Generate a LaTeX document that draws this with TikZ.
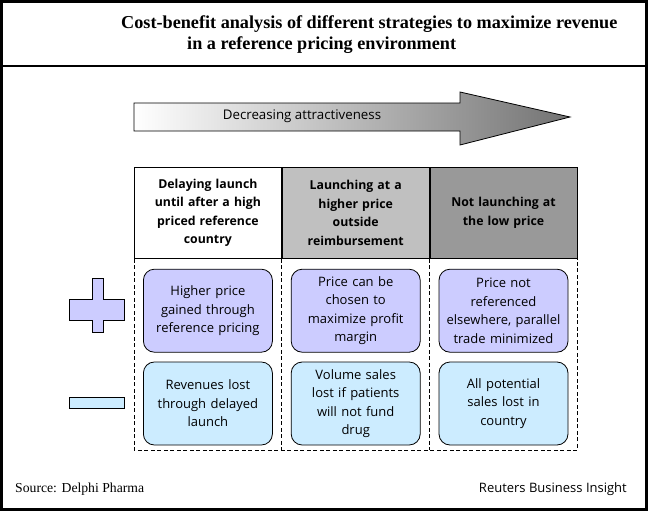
\documentclass[tikz,border=0pt]{standalone}
\usepackage{fontspec}
\setmainfont{Liberation Serif}
\setsansfont{Open Sans}
\usetikzlibrary{positioning}

\definecolor{procol}{HTML}{CCCCFF}
\definecolor{concol}{HTML}{CCECFF}
\definecolor{midgray}{HTML}{C0C0C0}
\definecolor{darkgray}{HTML}{999999}

\begin{document}
\begin{tikzpicture}[x=1pt, y=-1pt, node distance=0pt,
    head/.style={draw, line width=0.8pt, minimum width=147pt, minimum height=91pt, text width=145pt,
      align=center, inner sep=0pt, font=\sffamily\bfseries\fontsize{12.3}{18.5}\selectfont},
    pro/.style={draw, line width=0.8pt, rounded corners=11pt, fill=procol, minimum width=129pt,
      minimum height=83pt, text width=128pt, align=center, inner sep=0pt,
      font=\sffamily\fontsize{13}{18.5}\selectfont},
    con/.style={pro, fill=concol},
    sign/.style={draw, line width=0.8pt}]
  \useasboundingbox (0,0) rectangle (648,511);
  \draw[line width=3pt] (1.5,1.5) rectangle (646.5,509.5);
  \draw[line width=1.2pt] (0,66) -- (648,66);

  % title
  \node[anchor=west, font=\bfseries\fontsize{18.2}{20}\selectfont, inner sep=0pt] (title1) at (121,24)
    {Cost-benefit analysis of different strategies to maximize revenue};
  \node[anchor=west, font=\bfseries\fontsize{18.2}{20}\selectfont, inner sep=0pt] (title2) at (187,45)
    {in a reference pricing environment};

  % arrow
  \shade[draw, line width=0.8pt, left color=white, right color=black!55]
    (134,103) -- (460,103) -- (460,92) -- (570,117) -- (460,145) -- (460,131) -- (134,131) -- cycle;
  \node[font=\sffamily\fontsize{13.3}{14}\selectfont] (trend) at (302,116) {Decreasing attractiveness};

  % strategies
  \node[head, anchor=north west, fill=white] (h1) at (134,167)
    {Delaying launch\\until after a high\\priced reference\\country};
  \node[head, fill=midgray, right=of h1] (h2) {Launching at a\\higher price\\outside\\reimbursement};
  \node[head, fill=darkgray, right=of h2] (h3) {Not launching at\\the low price};

  \draw[line width=0.9pt, dash pattern=on 4pt off 2.5pt]
    (h1.south west) -- (h1.south west |- 0,450) -- (h3.south east |- 0,450) -- (h3.south east)
    (h1.south east) -- (h1.south east |- 0,450)
    (h2.south east) -- (h2.south east |- 0,450);

  % pros
  \node[pro, below=10pt of h1] (p1) {Higher price\\gained through\\reference pricing};
  \node[pro, below=10pt of h2] (p2) {Price can be\\chosen to\\maximize profit\\margin};
  \node[pro, below=10pt of h3] (p3) {Price not\\referenced\\elsewhere, parallel\\trade minimized};

  % cons
  \node[con, below=9pt of p1] (c1) {Revenues lost\\through delayed\\launch};
  \node[con, below=9pt of p2] (c2) {Volume sales\\lost if patients\\will not fund\\drug};
  \node[con, below=9pt of p3] (c3) {All potential\\sales lost in\\country};

  % plus and minus
  \draw[sign, fill=procol] (92,278) -- (103,278) -- (103,299) -- (124,299) -- (124,320) -- (103,320)
    -- (103,332) -- (92,332) -- (92,320) -- (69,320) -- (69,299) -- (92,299) -- cycle;
  \draw[sign, fill=concol] (69,397) rectangle (124,408);

  % footer
  \node[anchor=west, font=\fontsize{13.7}{14}\selectfont, inner sep=0pt] (source) at (15,489) {Source: Delphi Pharma};
  \node[anchor=east, font=\sffamily\fontsize{13}{14}\selectfont, inner sep=0pt] (brand) at (627,489) {Reuters Business Insight};
\end{tikzpicture}
\end{document}
